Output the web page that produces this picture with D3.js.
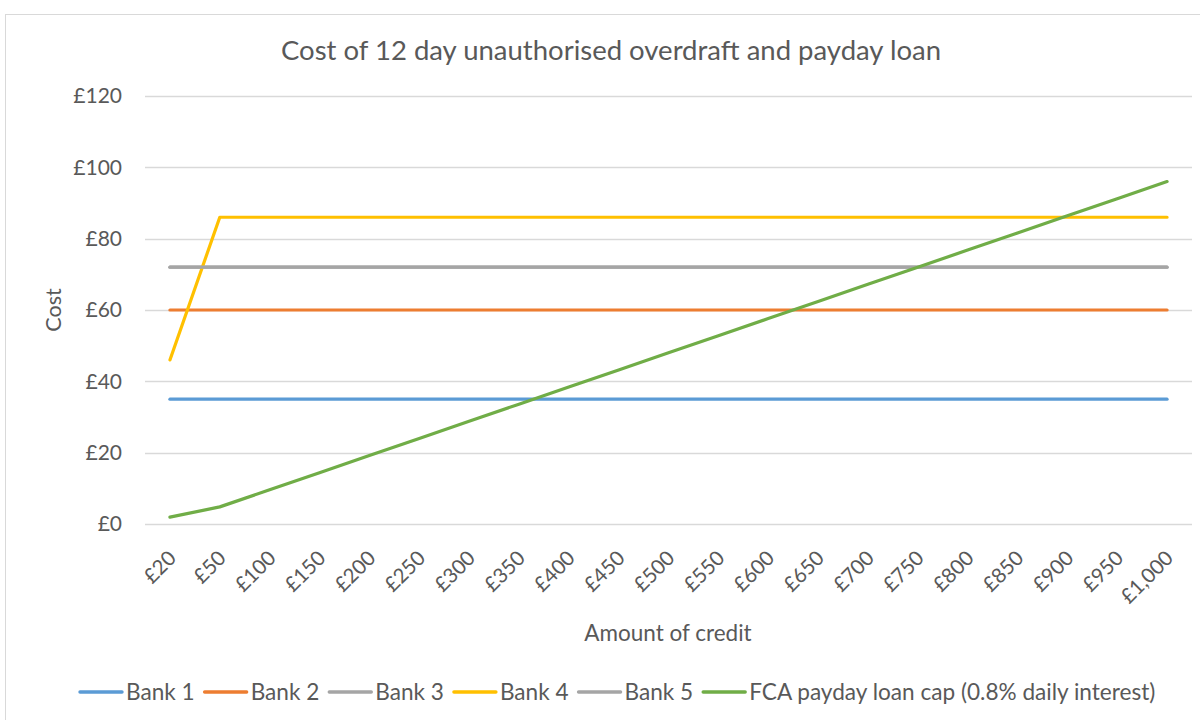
<!DOCTYPE html>
<html>
<head>
<meta charset="utf-8">
<script src="https://cdn.jsdelivr.net/npm/d3@7/dist/d3.min.js"></script>
<style>
  body { margin: 0; background: #fff; }
  svg { display: block; font-family: Lato, "Open Sans", sans-serif; }
</style>
</head>
<body>
<svg width="1200" height="720"></svg>
<script>
// categories and series
const amounts = ["£20", "£50", "£100", "£150", "£200", "£250", "£300", "£350", "£400", "£450",
    "£500", "£550", "£600", "£650", "£700", "£750", "£800", "£850", "£900", "£950", "£1,000"];
const bank1 = [35, 35, 35, 35, 35, 35, 35, 35, 35, 35, 35, 35, 35, 35, 35, 35, 35, 35, 35, 35, 35];
const bank2 = [60, 60, 60, 60, 60, 60, 60, 60, 60, 60, 60, 60, 60, 60, 60, 60, 60, 60, 60, 60, 60];
const bank3 = [72, 72, 72, 72, 72, 72, 72, 72, 72, 72, 72, 72, 72, 72, 72, 72, 72, 72, 72, 72, 72];
const bank4 = [46, 86, 86, 86, 86, 86, 86, 86, 86, 86, 86, 86, 86, 86, 86, 86, 86, 86, 86, 86, 86];
const bank5 = [72, 72, 72, 72, 72, 72, 72, 72, 72, 72, 72, 72, 72, 72, 72, 72, 72, 72, 72, 72, 72];
const fcaCap = [1.92, 4.8, 9.6, 14.4, 19.2, 24, 28.8, 33.6, 38.4, 43.2, 48, 52.8, 57.6,
    62.4, 67.2, 72, 76.8, 81.6, 86.4, 91.2, 96];
const yTicks = [0, 20, 40, 60, 80, 100, 120];

const series = [
    { name: "Bank 1", values: bank1, color: "#5b9bd5" },
    { name: "Bank 2", values: bank2, color: "#ed7d31" },
    { name: "Bank 3", values: bank3, color: "#a5a5a5" },
    { name: "Bank 4", values: bank4, color: "#ffc000" },
    { name: "Bank 5", values: bank5, color: "#a5a5a5" },
    { name: "FCA payday loan cap (0.8% daily interest)", values: fcaCap, color: "#70ad47" }
];

const svg = d3.select("svg");
const textColor = "#595959";
const gridColor = "#d9d9d9";

// chart frame
svg.append("rect")
    .attr("x", 5.5).attr("y", 14.5)
    .attr("width", 1210).attr("height", 720)
    .attr("fill", "none").attr("stroke", gridColor);

const x = d3.scaleBand().domain(amounts).range([145, 1192]);
const y = d3.scaleLinear().domain([0, 120]).range([524, 96]);
const cx = d => x(d) + x.bandwidth() / 2;

// gridlines
svg.append("g")
    .selectAll("line")
    .data(yTicks)
    .join("line")
        .attr("x1", 145).attr("x2", 1192)
        .attr("y1", d => Math.round(y(d)) + 0.5)
        .attr("y2", d => Math.round(y(d)) + 0.5)
        .attr("stroke", gridColor)
        .attr("stroke-width", 1.3);

// y tick labels
svg.append("g")
    .attr("fill", textColor)
    .attr("font-size", 21)
    .attr("text-anchor", "end")
    .selectAll("text")
    .data(yTicks)
    .join("text")
        .attr("x", 122)
        .attr("y", d => y(d))
        .attr("dy", "0.35em")
        .text(d => "£" + d);

// x tick labels, rotated
svg.append("g")
    .attr("fill", textColor)
    .attr("font-size", 20.5)
    .attr("text-anchor", "end")
    .selectAll("text")
    .data(amounts)
    .join("text")
        .attr("transform", d => `translate(${cx(d) - 3},${549}) rotate(-45)`)
        .attr("dy", "0.72em")
        .text(d => d);

// lines
const line = d3.line()
    .x((d, i) => cx(amounts[i]))
    .y(d => y(d));

svg.append("g")
    .attr("fill", "none")
    .attr("stroke-width", 3.2)
    .attr("stroke-linecap", "round")
    .attr("stroke-linejoin", "round")
    .selectAll("path")
    .data(series)
    .join("path")
        .attr("stroke", d => d.color)
        .attr("d", d => line(d.values));

// titles
svg.append("text")
    .attr("x", 611).attr("y", 60)
    .attr("text-anchor", "middle")
    .attr("font-size", 27.5)
    .attr("fill", textColor)
    .text("Cost of 12 day unauthorised overdraft and payday loan");

svg.append("text")
    .attr("transform", "translate(61,310) rotate(-90)")
    .attr("text-anchor", "middle")
    .attr("font-size", 21.5)
    .attr("fill", textColor)
    .text("Cost");

svg.append("text")
    .attr("x", 668).attr("y", 641)
    .attr("text-anchor", "middle")
    .attr("font-size", 22.5)
    .attr("fill", textColor)
    .text("Amount of credit");

// legend
const legend = svg.append("g")
    .attr("font-size", 22.6)
    .attr("fill", textColor);

let lx = 80;
series.forEach(s => {
    const g = legend.append("g").attr("transform", `translate(${lx},692)`);
    g.append("line")
        .attr("x1", 0).attr("x2", 42)
        .attr("stroke", s.color)
        .attr("stroke-width", 3.4)
        .attr("stroke-linecap", "round");
    const t = g.append("text")
        .attr("x", 46)
        .attr("dy", "0.35em")
        .text(s.name);
    lx += 46 + t.node().getComputedTextLength() + 10;
});
</script>
</body>
</html>
